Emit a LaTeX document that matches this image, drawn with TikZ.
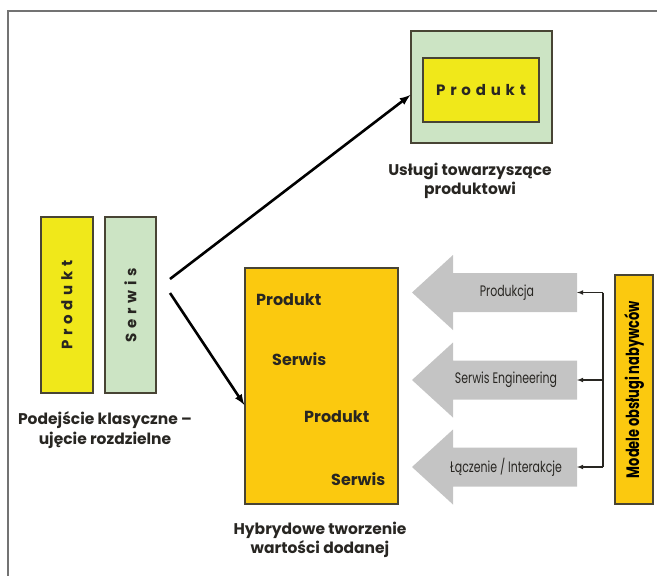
\documentclass[tikz,border=0pt]{standalone}
\usepackage{fontspec}
\setmainfont{Poppins}
\newfontfamily\condfont[FakeStretch=0.72]{Poppins}
\usetikzlibrary{positioning,arrows}
\definecolor{prodyellow}{RGB}{240,232,26}
\definecolor{servgreen}{RGB}{204,228,196}
\definecolor{hybridorange}{RGB}{251,201,15}
\definecolor{arrowgray}{RGB}{196,196,196}
\definecolor{edgegray}{RGB}{72,68,52}
\definecolor{textdark}{RGB}{40,38,34}

\begin{document}
\begin{tikzpicture}
    \tikzset{x=1pt,y=-1pt,every path/.style={>=latex},
      box/.style={draw=edgegray,line width=1.2pt,inner sep=0pt},
      spaced/.style={font=\bfseries\fontsize{15}{16}\selectfont\addfontfeature{LetterSpace=32},text=textdark},
      caption/.style={font=\bfseries\fontsize{15.5}{19.5}\selectfont,align=center,text=textdark},
      inword/.style={font=\bfseries\fontsize{16}{18}\selectfont,text=textdark,anchor=west,inner sep=0pt},
      graytext/.style={font=\condfont\fontsize{15.2}{17}\selectfont,text=textdark}}
    \useasboundingbox (0,0) rectangle (657,576);
    \draw[gray!90!black,line width=1.5] (8,576) -- (8,11) -- (657,11);
    % top: usługi towarzyszące
    \node [box,fill=servgreen,minimum width=141,minimum height=112]   (usl) at (481.5,87)  {};
    \node [box,fill=prodyellow,minimum width=116,minimum height=64,spaced]   (uslprod) at (481,90)  {Produkt};
    \node [caption]   (usltxt) at (470,181)  {Usługi towarzyszące\\produktowi};
    % left: podejście klasyczne
    \node [box,fill=prodyellow,minimum width=52,minimum height=176]   (klprod) at (67,305)  {};
    \node [spaced,rotate=90]   at (klprod.center)  {Produkt};
    \node [box,fill=servgreen,minimum width=51,minimum height=176]   (klserw) at (130.5,305)  {};
    \node [spaced,rotate=90]   at (klserw.center)  {Serwis};
    \node [caption]   (kltxt) at (105,430)  {Podejście klasyczne –\\ujęcie rozdzielne};
    % middle: hybrydowe
    \node [box,fill=hybridorange,minimum width=153,minimum height=236]   (hyb) at (321.5,386)  {};
    \node [inword]   (hyb1) at (256,300)  {Produkt};
    \node [inword]   (hyb2) at (272,359)  {Serwis};
    \node [inword]   (hyb3) at (304,417)  {Produkt};
    \node [inword]   (hyb4) at (331,479)  {Serwis};
    \node [caption]   (hybtxt) at (320,540)  {Hybrydowe tworzenie\\wartości dodanej};
    % arrows from the classic approach
    \coordinate (kla) at (170,279);
    \coordinate (klb) at (170,293);
    \draw[line width=2.6,->] (kla) -- ([yshift=-8]usl.west);
    \draw[line width=2.6,->] (klb) -- ([yshift=-19]hyb.west);
    % gray arrows
    \foreach \yy in {292.5,380,467}
      \fill[arrowgray] (577,\yy-19.5) -- (453,\yy-19.5) -- (453,\yy-37.5) -- (412,\yy)
        -- (453,\yy+37.5) -- (453,\yy+19.5) -- (577,\yy+19.5) -- cycle;
    \node [graytext]   (gproduk) at (507,292.5)  {Produkcja};
    \node [graytext]   (gserwis) at (506,380)  {Serwis Engineering};
    \node [graytext]   (glacz) at (506,467)  {Łączenie / Interakcje};
    % right: modele obsługi nabywców
    \node [box,fill=hybridorange,minimum width=38,minimum height=229]   (mod) at (634,389.5)  {};
    \node [font=\condfont\bfseries\fontsize{18}{19}\selectfont,text=black,rotate=90]   at (mod.center)  {Modele obsługi nabywców};
    \coordinate (ta) at (577,292.5);
    \coordinate (tb) at (577,380);
    \coordinate (tc) at (577,467);
    \coordinate (busa) at (603,292.5);
    \coordinate (busb) at (603,380);
    \coordinate (busc) at (603,467);
    \draw[line width=1.1,textdark] (busa) -- (busc);
    \draw[line width=1.1,textdark,->] (busa) -- (ta);
    \draw[line width=1.1,textdark,->] (busb) -- (tb);
    \draw[line width=1.1,textdark,->] (busc) -- (tc);
\end{tikzpicture}
\end{document}
